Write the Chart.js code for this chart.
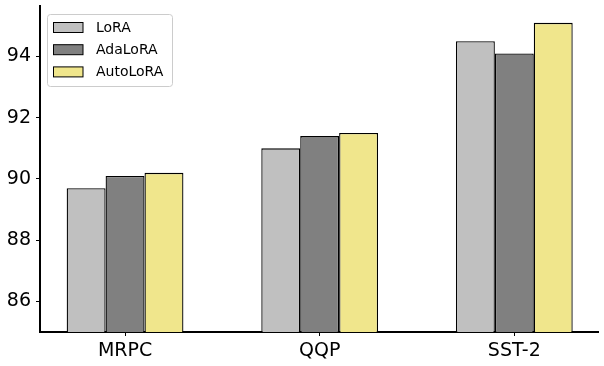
<!DOCTYPE html>
<html>
<head>
<meta charset="utf-8">
<script src="https://cdn.jsdelivr.net/npm/chart.js@4/dist/chart.umd.min.js"></script>
<style>
  html, body { margin: 0; padding: 0; background: #fff; }
  #wrap { width: 604px; height: 366px; position: relative; }
</style>
</head>
<body>
<div id="wrap"><canvas id="c" width="604" height="366"></canvas></div>
<script>
const categories = ["MRPC", "QQP", "SST-2"];
const seriesNames = ["LoRA", "AdaLoRA", "AutoLoRA"];
const loraValues = [89.7, 91.0, 94.5];
const adaloraValues = [90.1, 91.4, 94.1];
const autoloraValues = [90.2, 91.5, 95.1];
const yTicks = [86, 88, 90, 92, 94];

const seriesValues = [loraValues, adaloraValues, autoloraValues];
const colors = ["#c0c0c0", "#808080", "#f0e68c"];
const FONT = "'DejaVu Sans', sans-serif";

const datasets = seriesNames.map((name, s) => ({
  label: name,
  data: seriesValues[s].map((v, i) => ({ x: i, y: v })),
  backgroundColor: colors[s],
  borderColor: "#000",
  borderWidth: 1.3,
  borderSkipped: "bottom",
  categoryPercentage: 0.6,
  barPercentage: 1.0
}));

const legendPlugin = {
  id: "mplLegend",
  afterDraw(chart) {
    const ctx = chart.ctx;
    const x0 = 47.5, y0 = 14.5, w = 125, h = 72, r = 3;
    ctx.save();
    ctx.beginPath();
    ctx.moveTo(x0 + r, y0);
    ctx.lineTo(x0 + w - r, y0);
    ctx.quadraticCurveTo(x0 + w, y0, x0 + w, y0 + r);
    ctx.lineTo(x0 + w, y0 + h - r);
    ctx.quadraticCurveTo(x0 + w, y0 + h, x0 + w - r, y0 + h);
    ctx.lineTo(x0 + r, y0 + h);
    ctx.quadraticCurveTo(x0, y0 + h, x0, y0 + h - r);
    ctx.lineTo(x0, y0 + r);
    ctx.quadraticCurveTo(x0, y0, x0 + r, y0);
    ctx.closePath();
    ctx.fillStyle = "rgba(255,255,255,0.8)";
    ctx.fill();
    ctx.strokeStyle = "#cccccc";
    ctx.lineWidth = 1;
    ctx.stroke();
    chart.data.datasets.forEach((ds, i) => {
      const cy = 27.5 + i * 22.2;
      ctx.fillStyle = ds.backgroundColor;
      ctx.fillRect(53.5, cy - 5, 29.5, 10);
      ctx.strokeStyle = "#000";
      ctx.lineWidth = 1;
      ctx.strokeRect(53.5, cy - 5, 29.5, 10);
      ctx.fillStyle = "#000";
      ctx.font = "14px " + FONT;
      ctx.textBaseline = "middle";
      ctx.textAlign = "left";
      ctx.fillText(ds.label, 96, cy + 0.5);
    });
    ctx.restore();
  }
};

new Chart(document.getElementById("c"), {
  type: "bar",
  data: { datasets },
  options: {
    responsive: false,
    animation: false,
    devicePixelRatio: 1,
    layout: { padding: { top: 0, right: 6, left: 0, bottom: 0 } },
    plugins: { legend: { display: false }, tooltip: { enabled: false } },
    scales: {
      x: {
        type: "linear",
        offset: false,
        min: -0.437,
        max: 2.43,
        afterBuildTicks(scale) {
          scale.ticks = categories.map((c, i) => ({ value: i }));
        },
        afterFit(scale) { scale.height = 34; scale.paddingLeft = 0; scale.paddingRight = 0; },
        ticks: {
          callback: (v) => categories[v] ?? "",
          color: "#000",
          font: { family: FONT, size: 19 },
          padding: 4,
          maxRotation: 0,
          autoSkip: false
        },
        grid: { offset: false, drawOnChartArea: false, drawTicks: true, tickLength: 4, color: "#000", lineWidth: 1 },
        border: { display: true, color: "#000", width: 2 }
      },
      y: {
        min: 85,
        max: 95.65,
        afterBuildTicks(scale) {
          scale.ticks = yTicks.map(v => ({ value: v }));
        },
        afterFit(scale) { scale.width = 40; scale.paddingTop = 6; scale.paddingBottom = 0; },
        ticks: {
          color: "#000",
          font: { family: FONT, size: 19 },
          padding: 5
        },
        grid: { drawOnChartArea: false, drawTicks: true, tickLength: 4, color: "#000", lineWidth: 1 },
        border: { display: true, color: "#000", width: 2 }
      }
    }
  },
  plugins: [legendPlugin]
});
</script>
</body>
</html>
